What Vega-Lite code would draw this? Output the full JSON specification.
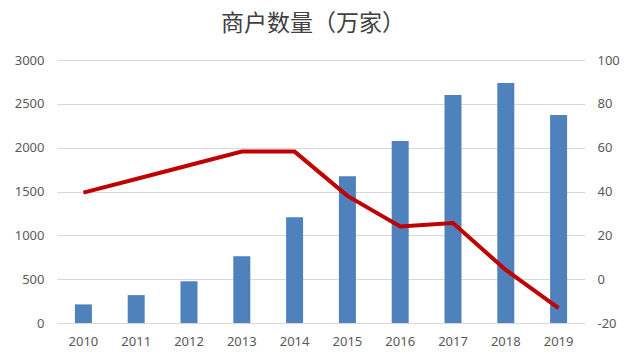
{
  "$schema": "https://vega.github.io/schema/vega-lite/v6.json",
  "width": 528,
  "height": 263,
  "autosize": "none",
  "padding": {"left": 57, "top": 60, "right": 41, "bottom": 33},
  "background": "white",
  "title": {"text": "商户数量（万家）", "font": "Noto Sans CJK SC", "fontSize": 23, "fontWeight": "normal", "color": "#404040", "anchor": "middle", "offset": 18, "dx": -8},
  "config": {"view": {"stroke": null}, "axis": {"labelFont": "Noto Sans", "labelFontSize": 13, "labelColor": "#595959", "domain": false, "ticks": false, "title": null}},
  "data": {"values": [
    {"year": "2010", "merchants": 212, "growth": 39.5},
    {"year": "2011", "merchants": 318, "growth": 45.7},
    {"year": "2012", "merchants": 476, "growth": 52.0},
    {"year": "2013", "merchants": 761, "growth": 58.2},
    {"year": "2014", "merchants": 1207, "growth": 58.2},
    {"year": "2015", "merchants": 1675, "growth": 38.0},
    {"year": "2016", "merchants": 2075, "growth": 24.0},
    {"year": "2017", "merchants": 2600, "growth": 25.6},
    {"year": "2018", "merchants": 2737, "growth": 4.2},
    {"year": "2019", "merchants": 2372, "growth": -13.2}
  ]},
  "encoding": {"x": {"field": "year", "type": "nominal", "scale": {"paddingInner": 0, "paddingOuter": 0}, "axis": {"labelAngle": 0, "labelPadding": 12, "grid": false}}},
  "layer": [
    {"mark": {"type": "bar", "color": "#4f81bd", "size": 17},
     "encoding": {"y": {"field": "merchants", "type": "quantitative", "scale": {"domain": [0, 3000], "nice": false}, "axis": {"values": [0, 500, 1000, 1500, 2000, 2500, 3000], "format": "d", "grid": true, "gridColor": "#d9d9d9", "labelPadding": 13}}}},
    {"mark": {"type": "line", "color": "#c00000", "strokeWidth": 4},
     "encoding": {"y": {"field": "growth", "type": "quantitative", "scale": {"domain": [-20, 100], "nice": false}, "axis": {"orient": "right", "values": [-20, 0, 20, 40, 60, 80, 100], "labelExpr": "'' + datum.value", "grid": false, "labelPadding": 12}}}}
  ],
  "resolve": {"scale": {"y": "independent"}}
}
